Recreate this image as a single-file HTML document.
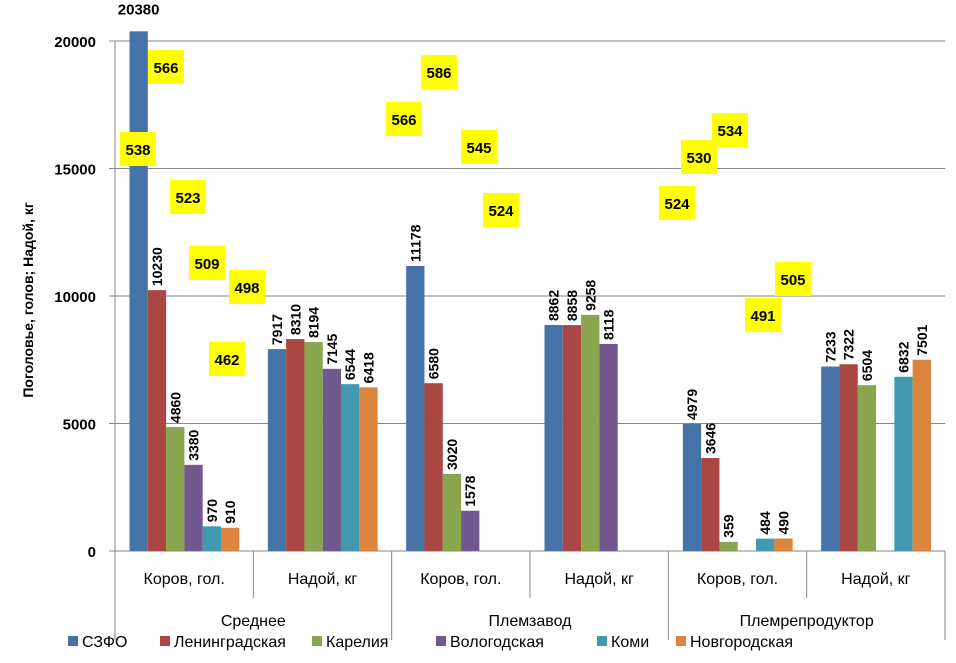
<!DOCTYPE html>
<html><head><meta charset="utf-8"><style>
body{margin:0;background:#fff;font-family:"Liberation Sans",sans-serif}
svg text{font-family:"Liberation Sans",sans-serif}
</style></head><body>
<svg id="chart" width="956" height="658" xmlns="http://www.w3.org/2000/svg"></svg>
<script>
const categories=["Коров, гол.","Надой, кг","Коров, гол.","Надой, кг","Коров, гол.","Надой, кг"];
const groups=["Среднее","Племзавод","Племрепродуктор"];
const seriesNames=["СЗФО","Ленинградская","Карелия","Вологодская","Коми","Новгородская"];
const sSZFO=[20380,7917,11178,8862,4979,7233];
const sLen=[10230,8310,6580,8858,3646,7322];
const sKar=[4860,8194,3020,9258,359,6504];
const sVol=[3380,7145,1578,8118,null,null];
const sKomi=[970,6544,null,null,484,6832];
const sNov=[910,6418,null,null,490,7501];
const yTicks=[0,5000,10000,15000,20000];
const notes=[["566",148,50],["538",120,132],["523",170,180],["509",189,246],["498",229,270],["462",209,342],
["586",421,55],["566",386,102],["545",461,130],["524",483,193],
["534",712,113],["530",681,140],["524",659,186],["505",775,262],["491",745,298]];
const colors=["#4572A7","#AA4643","#89A54E","#71588F","#4198AF","#DB843D"];
const series=[sSZFO,sLen,sKar,sVol,sKomi,sNov];
const svg=document.getElementById('chart');
const NS="http://www.w3.org/2000/svg";
const X0=115,X1=945,Y0=551,Ytop=41,YMAX=20000;
const gw=(X1-X0)/categories.length;
const y=v=>Y0-(v/YMAX)*(Y0-Ytop);
function mk(t,a,p){const e=document.createElementNS(NS,t);for(const k in a)e.setAttribute(k,a[k]);(p||svg).appendChild(e);return e;}
yTicks.forEach(t=>{
 const l=mk('line',{x1:109,x2:X1,y1:y(t),y2:y(t),stroke:'#868686','stroke-width':1});
 
 
 const tx=mk('text',{x:96,y:y(t)+6,'text-anchor':'end','font-size':15,'font-weight':'bold',fill:'#000'});
 tx.textContent=t;
 
 
});
const ax=mk('line',{x1:X0,x2:X0,y1:Ytop,y2:640,stroke:'#868686'});


const yt=mk('text',{x:0,y:0,transform:'translate(33,300) rotate(-90)','text-anchor':'middle','font-size':14,'font-weight':'bold'});
yt.textContent='Поголовье, голов; Надой, кг';


const bw=18.3;
categories.forEach((c,i)=>{
 const gx=X0+i*gw;
 const sep=mk('line',{x1:gx+gw,x2:gx+gw,y1:Y0,y2:(i%2==1?640:598),stroke:'#868686'});
 
 
 const ct=mk('text',{x:gx+gw/2,y:584,'text-anchor':'middle','font-size':16});
 ct.textContent=c;
 
 
 series.forEach((s,j)=>{
  const v=s[i]; if(v==null) return;
  const bx=gx+14.5+j*bw;
  const r=mk('rect',{x:bx,y:y(v),width:bw,height:Y0-y(v),fill:colors[j]});
  
  
  let t;
  if(v>YMAX){t=mk('text',{x:bx+bw/2,y:y(v)-17,'text-anchor':'middle','font-size':15,'font-weight':'bold'});}
  else{t=mk('text',{x:0,y:0,transform:`translate(${bx+bw/2+5},${y(v)-4}) rotate(-90)`,'font-size':14,'font-weight':'bold'});}
  t.textContent=v;
  
  
 });
});
groups.forEach((g,k)=>{
 const t=mk('text',{x:X0+(2*k+1)*gw,y:626,'text-anchor':'middle','font-size':16});
 t.textContent=g;
 
 
});
notes.forEach(n=>{
 const r=mk('rect',{x:n[1],y:n[2],width:36,height:34,fill:'#FFFF00'});
 
 
 const t=mk('text',{x:n[1]+18,y:n[2]+23,'text-anchor':'middle','font-size':15,'font-weight':'bold'});
 t.textContent=n[0];
 
 
});
let lx=68;
const lw=[92,152,124,161,79,0];
seriesNames.forEach((s,j)=>{
 const r=mk('rect',{x:lx,y:636,width:10,height:10,fill:colors[j]});
 
 
 const t=mk('text',{x:lx+14,y:647,'font-size':16,textLength:0});
 t.removeAttribute('textLength');
 t.textContent=s;
 
 
 lx+=lw[j];
});
</script>
</body></html>
